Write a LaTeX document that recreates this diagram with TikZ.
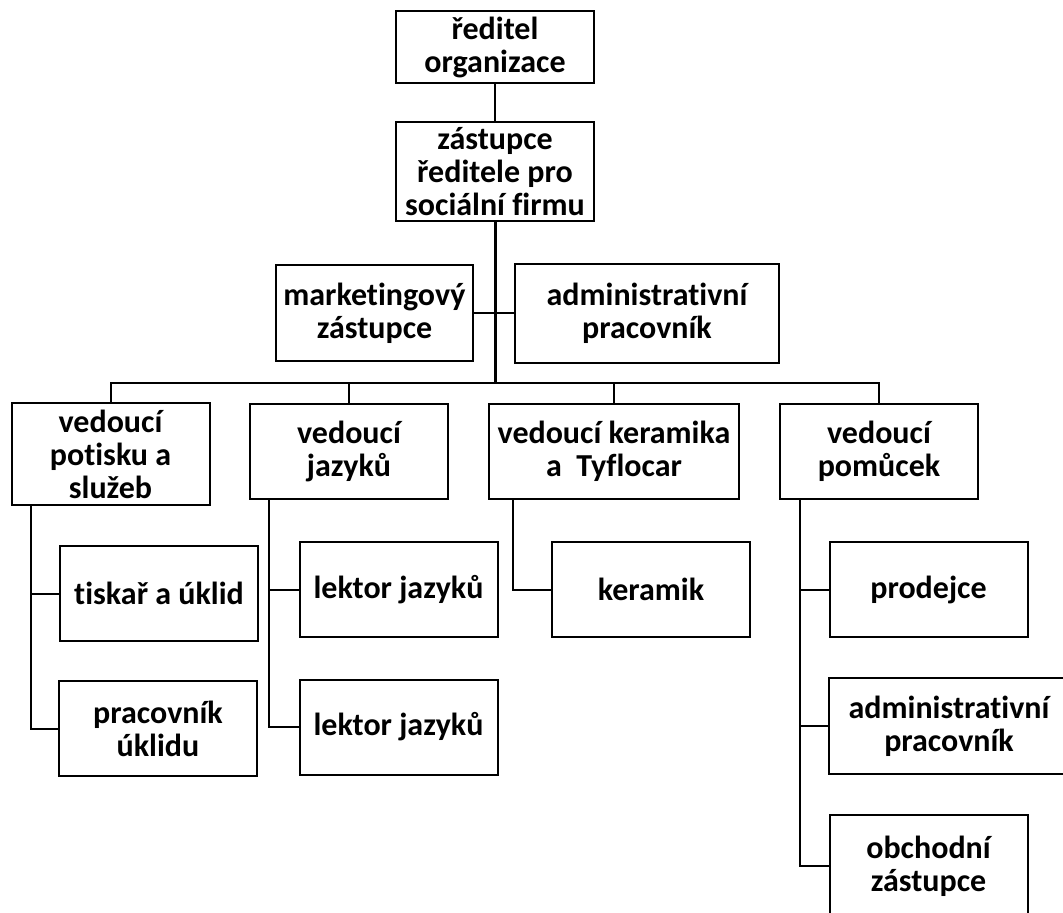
\documentclass[tikz,border=0pt]{standalone}
\usepackage{fontspec}
\setmainfont{Carlito}[Ligatures=NoCommon]
\begin{document}
\begin{tikzpicture}
  [x=1pt,y=-1pt,line width=2pt,every node/.style={draw,line width=2pt,align=center,inner sep=0pt,
   font=\fontsize{32}{33}\selectfont\bfseries}]
  \tikzstyle{box} = [minimum width=198pt,minimum height=95pt]
  \useasboundingbox (0,0) rectangle (1063,913);
  \node[box,minimum height=72pt] (reditel) at (495,47) {ředitel\\organizace};
  \node[box,minimum height=99pt] (zastupce) at (495,171.5) {zástupce\\ředitele pro\\sociální firmu};
  \node[box,minimum width=197pt,minimum height=96pt] (mark) at (374.5,313) {marketingový\\zástupce};
  \node[box,minimum width=264pt,minimum height=99pt] (adm) at (647,313) {administrativní\\pracovník};
  \coordinate (bar) at (495,383);
  \node[box,minimum height=102pt] (potisk) at (110.5,454) {vedoucí\\potisku a\\služeb};
  \node[box] (jazyky) at (349,451.5) {vedoucí\\jazyků};
  \node[box,minimum width=250pt] (keramika) at (614,451.5) {vedoucí keramika\\a\ \ Tyflocar};
  \node[box] (pomucky) at (879,451.5) {vedoucí\\pomůcek};
  \node[box] (tiskar) at (159,593.5) {tiskař a úklid};
  \node[box] (uklid) at (158,728.5) {pracovník\\úklidu};
  \node[box] (lektor1) at (398.5,589.5) {lektor jazyků};
  \node[box] (lektor2) at (398.5,727) {lektor jazyků};
  \node[box] (keramik) at (651,589.5) {keramik};
  \node[box] (prodejce) at (928.5,589.5) {prodejce};
  \node[box,minimum width=240pt,minimum height=96pt] (adm2) at (949,726) {administrativní\\pracovník};
  \node[box,minimum height=102pt] (obchod) at (928.5,866) {obchodní\\zástupce};
  \draw (reditel) -- (zastupce);
  \draw[line width=3pt] (zastupce) -- (bar);
  \draw (mark) -- (adm);
  \foreach \dest in {potisk,jazyky,keramika,pomucky}
   \draw (bar) -| (\dest);
  \foreach \source /\dest /\shift in {potisk/tiskar/20,potisk/uklid/20,jazyky/lektor1/20,jazyky/lektor2/20,
   keramika/keramik/25,pomucky/prodejce/21,pomucky/adm2/21,pomucky/obchod/21}
   \draw ([xshift=\shift pt]\source.south west) |- (\dest);
\end{tikzpicture}
\end{document}
